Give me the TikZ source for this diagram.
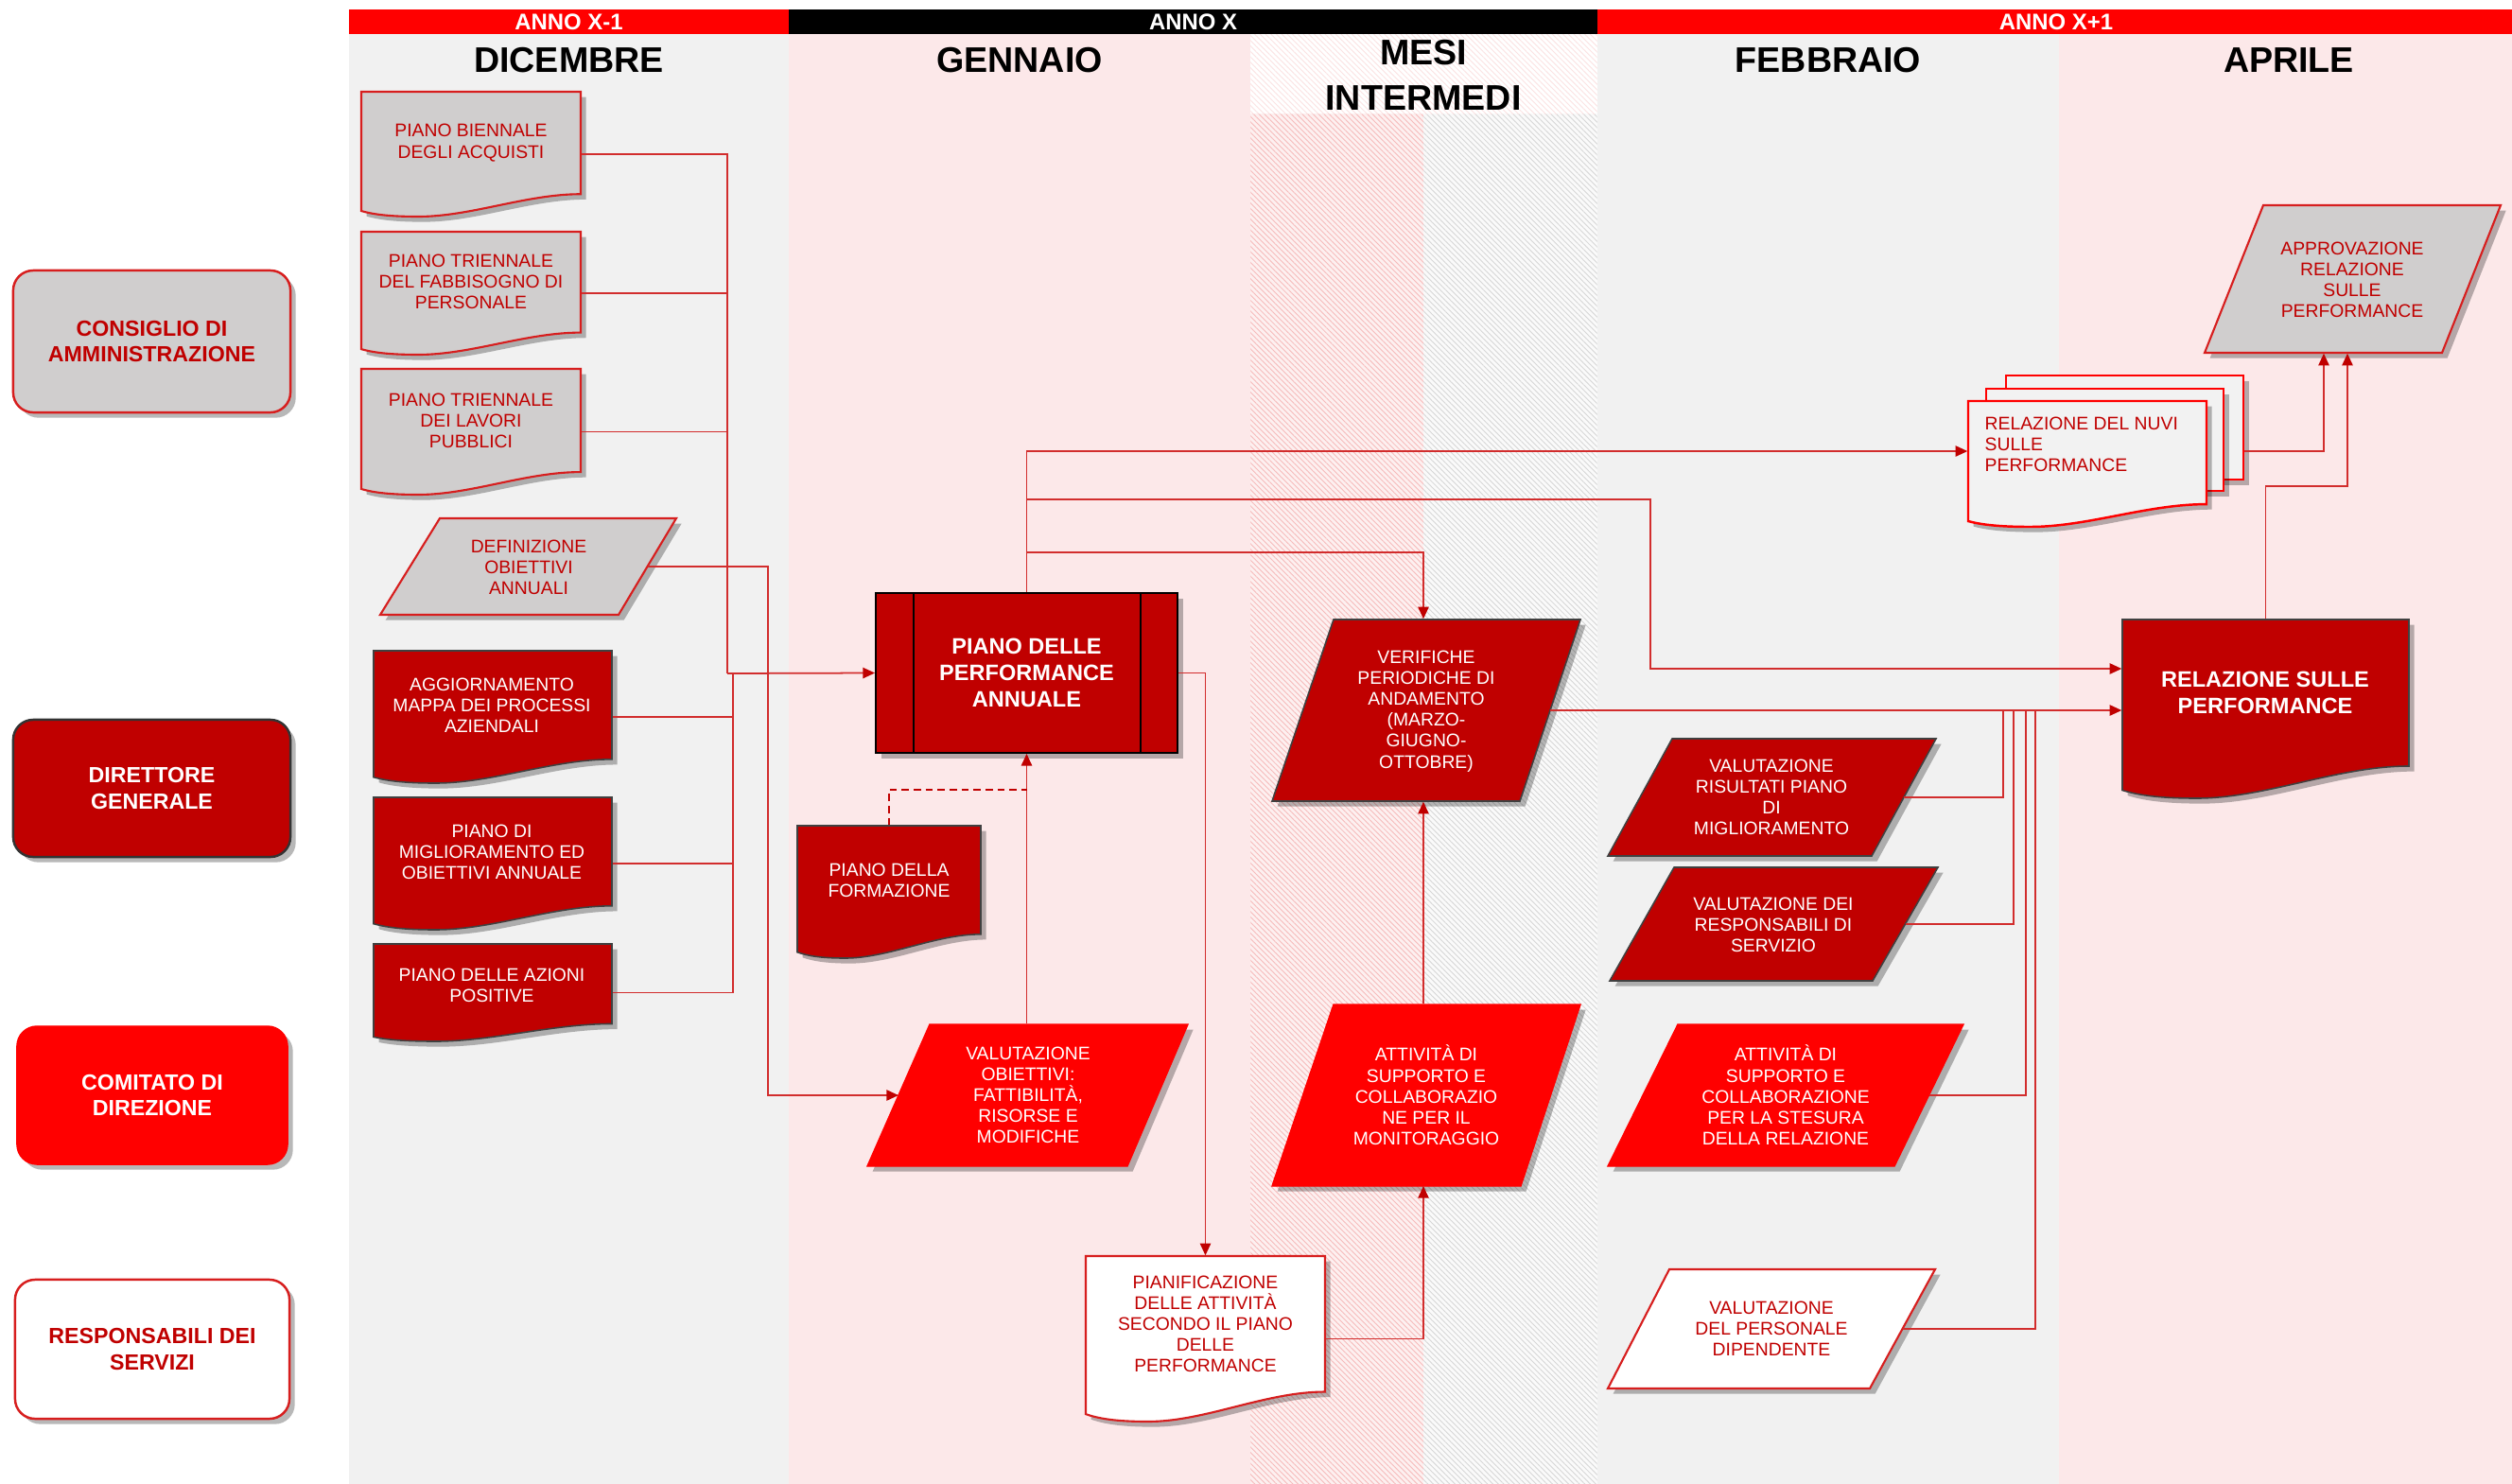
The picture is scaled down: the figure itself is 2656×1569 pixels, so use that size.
\documentclass[tikz,border=0pt]{standalone}
\usepackage{fontspec}
\setmainfont{Liberation Sans}
\usetikzlibrary{fit,shadows,patterns.meta,arrows.meta,calc}
\definecolor{dred}{RGB}{192,0,0}
\definecolor{bred}{RGB}{255,0,0}
\definecolor{sgray}{RGB}{208,206,206}
\definecolor{colgray}{RGB}{241,241,241}
\definecolor{colpink}{RGB}{252,232,233}
\definecolor{linered}{RGB}{210,45,45}
\definecolor{edgered}{RGB}{215,30,30}
\definecolor{hatchbgR}{RGB}{253,240,240}
\definecolor{hatchR}{RGB}{246,186,186}
\definecolor{hatchbgG}{RGB}{250,250,250}
\definecolor{hatchG}{RGB}{214,214,214}
\definecolor{hatchH}{RGB}{251,226,226}
\definecolor{nuvifill}{RGB}{242,242,242}

% document shape: name, style, x1, y1, x2, y2 (pixel units, y downward)
\newcommand{\DocShape}[6]{%
  \path[#2] (#3,#4) -- (#5,#4) -- (#5,{#4+0.82*(#6-#4)})
    .. controls ({#5-0.25*(#5-#3)},{#4+0.82*(#6-#4)}) and ({#3+0.5*(#5-#3)},{#6}) .. ({#3+0.26*(#5-#3)},{#6})
    .. controls ({#3+0.12*(#5-#3)},{#6}) and ({#3+0.05*(#5-#3)},{#4+0.98*(#6-#4)}) .. (#3,{#4+0.955*(#6-#4)}) -- cycle;
  \node[inner sep=0pt, fit={(#3,#4) (#5,#6)}] (#1) {};
}
% parallelogram: name, style, xTL, xTR, ytop, xBL, xBR, ybot
\newcommand{\ParaShape}[8]{%
  \path[#2] (#3,#5) -- (#4,#5) -- (#7,#8) -- (#6,#8) -- cycle;
  \node[inner sep=0pt, fit={(#6,#5) (#4,#8)}] (#1) {};
  \coordinate (#1-e) at ({(#4+#7)/2},{(#5+#8)/2});
  \coordinate (#1-w) at ({(#3+#6)/2},{(#5+#8)/2});
}

\begin{document}
\begin{tikzpicture}[x=0.01cm,y=-0.01cm,
  shd/.style={drop shadow={shadow xshift=1.6pt, shadow yshift=-1.6pt, fill=black, opacity=0.28}},
  gdoc/.style={fill=sgray, draw=edgered, line width=0.6pt, shd},
  ddoc/.style={fill=dred, draw=black!75, line width=0.45pt, shd},
  rshape/.style={fill=bred, draw=bred, line width=0.4pt, shd},
  wshape/.style={fill=white, draw=edgered, line width=0.6pt, shd},
  nuvistyle/.style={fill=nuvifill, draw=bred, line width=0.7pt, shd},
  lbl/.style={font={\fontsize{5.5pt}{6.3pt}\selectfont}, align=center, inner sep=0pt},
  blbl/.style={font={\bfseries\fontsize{6.7pt}{7.9pt}\selectfont}, align=center, inner sep=0pt, text=white},
  role/.style={rounded corners=6pt, align=center, font={\bfseries\fontsize{6.6pt}{7.7pt}\selectfont}, inner sep=0pt, shd},
  yr/.style={font={\bfseries\fontsize{6.8pt}{7pt}\selectfont}, text=white, inner sep=0pt},
  mh/.style={font={\bfseries\fontsize{10.7pt}{13.7pt}\selectfont}, align=center, inner sep=0pt},
  conn/.style={draw=linered, line width=0.5pt},
  arr/.style={conn, -{Triangle[length=3.6pt,width=3.2pt,color=dred]}},
  dashconn/.style={draw=dred, line width=0.6pt, dash pattern=on 2.2pt off 1.4pt}
]
\useasboundingbox (0,0) rectangle (2656,1569);
\fill[white] (0,0) rectangle (2656,1569);

% ---------------- columns
\fill[colgray] (369,36) rectangle (834,1569);
\fill[colpink] (834,36) rectangle (1322,1569);
\fill[hatchbgR] (1322,120) rectangle (1505,1569);
\fill[pattern={Lines[angle=-45,distance=1.15pt,line width=0.25pt]}, pattern color=hatchR] (1322,120) rectangle (1505,1569);
\fill[hatchbgG] (1505,120) rectangle (1689,1569);
\fill[pattern={Lines[angle=-45,distance=1.15pt,line width=0.25pt]}, pattern color=hatchG] (1505,120) rectangle (1689,1569);
\fill[pattern={Lines[angle=-45,distance=1.15pt,line width=0.25pt]}, pattern color=hatchH] (1322,36) rectangle (1689,120);
\fill[colgray] (1689,36) rectangle (2177,1569);
\fill[colpink] (2177,36) rectangle (2656,1569);

% ---------------- year bars
\fill[bred] (369,10) rectangle (834,36);
\fill[black] (834,10) rectangle (1689,36);
\fill[bred] (1689,10) rectangle (2656,36);
\node[yr] (yA) at (601.5,23) {ANNO X-1};
\node[yr] (yB) at (1261.5,23) {ANNO X};
\node[yr] (yC) at (2174,23) {ANNO X+1};

% ---------------- month headings
\node[mh] (mDic) at (601.5,64) {DICEMBRE};
\node[mh] (mGen) at (1078,64) {GENNAIO};
\node[mh] (mInt) at (1505,79) {MESI\\INTERMEDI};
\node[mh] (mFeb) at (1933,64) {FEBBRAIO};
\node[mh] (mApr) at (2420,64) {APRILE};

% ---------------- role boxes
\node[role, fill=sgray, draw=edgered, line width=0.7pt, text=dred, minimum width=2.93cm, minimum height=1.50cm] (cda) at (160.5,361) {CONSIGLIO DI\\AMMINISTRAZIONE};
\node[role, fill=dred, draw=black!80, line width=0.7pt, text=white, minimum width=2.93cm, minimum height=1.45cm] (dg) at (160.5,833.5) {DIRETTORE\\GENERALE};
\node[role, fill=bred, draw=bred, text=white, minimum width=2.86cm, minimum height=1.46cm] (cdd) at (161,1158) {COMITATO DI\\DIREZIONE};
\node[role, fill=white, draw=edgered, line width=0.7pt, text=dred, minimum width=2.90cm, minimum height=1.47cm] (rds) at (161,1426.5) {RESPONSABILI DEI\\SERVIZI};

% ---------------- Consiglio di amministrazione shapes
\DocShape{pb}{gdoc}{382}{97}{614}{229}
\node[lbl, text=dred] (pb-t) at (498,151) {PIANO BIENNALE\\DEGLI ACQUISTI};
\DocShape{ptf}{gdoc}{382}{245}{614}{375}
\node[lbl, text=dred] (ptf-t) at (498,298) {PIANO TRIENNALE\\DEL FABBISOGNO DI\\PERSONALE};
\DocShape{ptl}{gdoc}{382}{390}{614}{523}
\node[lbl, text=dred] (ptl-t) at (498,445) {PIANO TRIENNALE\\DEI LAVORI\\PUBBLICI};
\ParaShape{defn}{gdoc}{465}{715}{548}{402}{654}{650}
\node[lbl, text=dred] (defn-t) at (559,600) {DEFINIZIONE\\OBIETTIVI\\ANNUALI};
\ParaShape{appr}{gdoc}{2393}{2644}{217}{2331}{2582}{373}
\node[lbl, text=dred] (appr-t) at (2487,296) {APPROVAZIONE\\RELAZIONE\\SULLE\\PERFORMANCE};

% ---------------- Direttore generale shapes
\DocShape{agg}{ddoc}{395}{688}{647}{828}
\node[lbl, text=white] (agg-t) at (520,746) {AGGIORNAMENTO\\MAPPA DEI PROCESSI\\AZIENDALI};
\DocShape{pmig}{ddoc}{395}{843}{647}{983}
\node[lbl, text=white] (pmig-t) at (520,901) {PIANO DI\\MIGLIORAMENTO ED\\OBIETTIVI ANNUALE};
\DocShape{paz}{ddoc}{395}{998}{647}{1101}
\node[lbl, text=white] (paz-t) at (520,1042) {PIANO DELLE AZIONI\\POSITIVE};
\DocShape{pform}{ddoc}{843}{873}{1037}{1013}
\node[lbl, text=white] (pform-t) at (940,931) {PIANO DELLA\\FORMAZIONE};
\node[fill=dred, draw=black, line width=0.5pt, minimum width=3.19cm, minimum height=1.69cm, shd, blbl] (pdp) at (1085.5,711.5) {PIANO DELLE\\PERFORMANCE\\ANNUALE};
\draw[black, line width=0.5pt] ([xshift=0.41cm]pdp.north west) -- ([xshift=0.41cm]pdp.south west);
\draw[black, line width=0.5pt] ([xshift=-0.40cm]pdp.north east) -- ([xshift=-0.40cm]pdp.south east);
\ParaShape{ver}{ddoc}{1410}{1671}{655}{1345}{1607}{847}
\node[lbl, text=white] (ver-t) at (1508,752) {VERIFICHE\\PERIODICHE DI\\ANDAMENTO\\(MARZO-\\GIUGNO-\\OTTOBRE)};
\DocShape{rsp}{ddoc}{2244}{655}{2547}{844}
\node[blbl] (rsp-t) at (2395,732) {RELAZIONE SULLE\\PERFORMANCE};
\ParaShape{vr}{ddoc}{1768}{2047}{781}{1700}{1979}{905}
\node[lbl, text=white] (vr-t) at (1873,843) {VALUTAZIONE\\RISULTATI PIANO\\DI\\MIGLIORAMENTO};
\ParaShape{vresp}{ddoc}{1770}{2049}{917}{1702}{1980}{1037}
\node[lbl, text=white] (vresp-t) at (1875,978) {VALUTAZIONE DEI\\RESPONSABILI DI\\SERVIZIO};

% ---------------- Comitato di direzione shapes
\ParaShape{vo}{rshape}{983}{1256}{1083}{917}{1192}{1233}
\node[lbl, text=white] (vo-t) at (1087,1158) {VALUTAZIONE\\OBIETTIVI:\\FATTIBILITÀ,\\RISORSE E\\MODIFICHE};
\ParaShape{amon}{rshape}{1410}{1671}{1062}{1345}{1608}{1254}
\node[lbl, text=white] (amon-t) at (1508,1158) {ATTIVITÀ DI\\SUPPORTO E\\COLLABORAZIO\\NE PER IL\\MONITORAGGIO};
\ParaShape{ast}{rshape}{1774}{2076}{1083}{1700}{2003}{1233}
\node[lbl, text=white] (ast-t) at (1888,1158) {ATTIVITÀ DI\\SUPPORTO E\\COLLABORAZIONE\\PER LA STESURA\\DELLA RELAZIONE};

% ---------------- Responsabili dei servizi shapes
\DocShape{pian}{wshape}{1148}{1328}{1401}{1503}
\node[lbl, text=dred] (pian-t) at (1274.5,1400) {PIANIFICAZIONE\\DELLE ATTIVITÀ\\SECONDO IL PIANO\\DELLE\\PERFORMANCE};
\ParaShape{vpers}{wshape}{1765}{2046}{1342}{1700}{1977}{1468}
\node[lbl, text=dred] (vpers-t) at (1873,1405) {VALUTAZIONE\\DEL PERSONALE\\DIPENDENTE};

% ---------------- NUVI multi-document
\path[nuvistyle] (2121,397) rectangle (2372,507);
\path[nuvistyle] (2100,411) rectangle (2351,519);
\DocShape{nuvifront}{nuvistyle}{2081}{424}{2333}{557}
\node[inner sep=0pt, fit={(2081,397) (2372,557)}] (nuvi) {};
\node[lbl, align=left, text=dred, anchor=north west] (nuvi-t) at (2098,440) {RELAZIONE DEL NUVI\\SULLE\\PERFORMANCE};

% ---------------- connectors
\coordinate (busA) at (769,712);
\coordinate (busB) at (775,712);
\draw[conn] (pb.east) -| (busA);
\draw[conn] (ptf.east) -| (busA);
\draw[conn] (ptl.east) -| (busA);
\draw[conn] (agg.east) -| (busB);
\draw[conn] (pmig.east) -| (busB);
\draw[conn] (paz.east) -| (busB);
\draw[arr] (busA) -- (pdp.west);

\coordinate (kdef) at (812,1158);
\draw[arr] (defn-e) -| (kdef) -- (vo-w);
\draw[arr] (pdp.south |- vo.north) -- (pdp.south);
\coordinate (kdash) at (1085.5,835);
\draw[dashconn] (pform.north) |- (kdash);

\draw[arr] (pdp.north) |- (nuvi.west);
\coordinate (kt2) at (1745,528);
\coordinate (kt3) at (1745,707);
\draw[arr] (pdp.north |- kt2) -- (kt2) -- (kt3) -- (rsp.west |- kt3);
\coordinate (kt4) at (1505,584);
\draw[arr] (pdp.north |- kt4) -- (kt4) -- (kt4 |- ver.north);

\draw[arr] (pdp.east) -| (pian.north);
\coordinate (kmon) at (1505,1254);
\draw[arr] (pian.east) -| (kmon);
\draw[arr] (kmon |- amon.north) -- (kmon |- ver.south);

\draw[arr] (ver-e) -- (rsp.west |- ver-e);
\coordinate (f1) at (2118,751);
\coordinate (f2) at (2129,751);
\coordinate (f3) at (2142,751);
\coordinate (f4) at (2152,751);
\draw[conn] (vr-e) -| (f1);
\draw[conn] (vresp-e) -| (f2);
\draw[conn] (ast-e) -| (f3);
\draw[conn] (vpers-e) -| (f4);

\coordinate (ka) at (2457,477);
\draw[arr] (nuvi.east) -- (ka) -- (ka |- appr.south);
\coordinate (kb) at (2482,514);
\draw[arr] (rsp.north) |- (kb) -- (kb |- appr.south);
\end{tikzpicture}
\end{document}
